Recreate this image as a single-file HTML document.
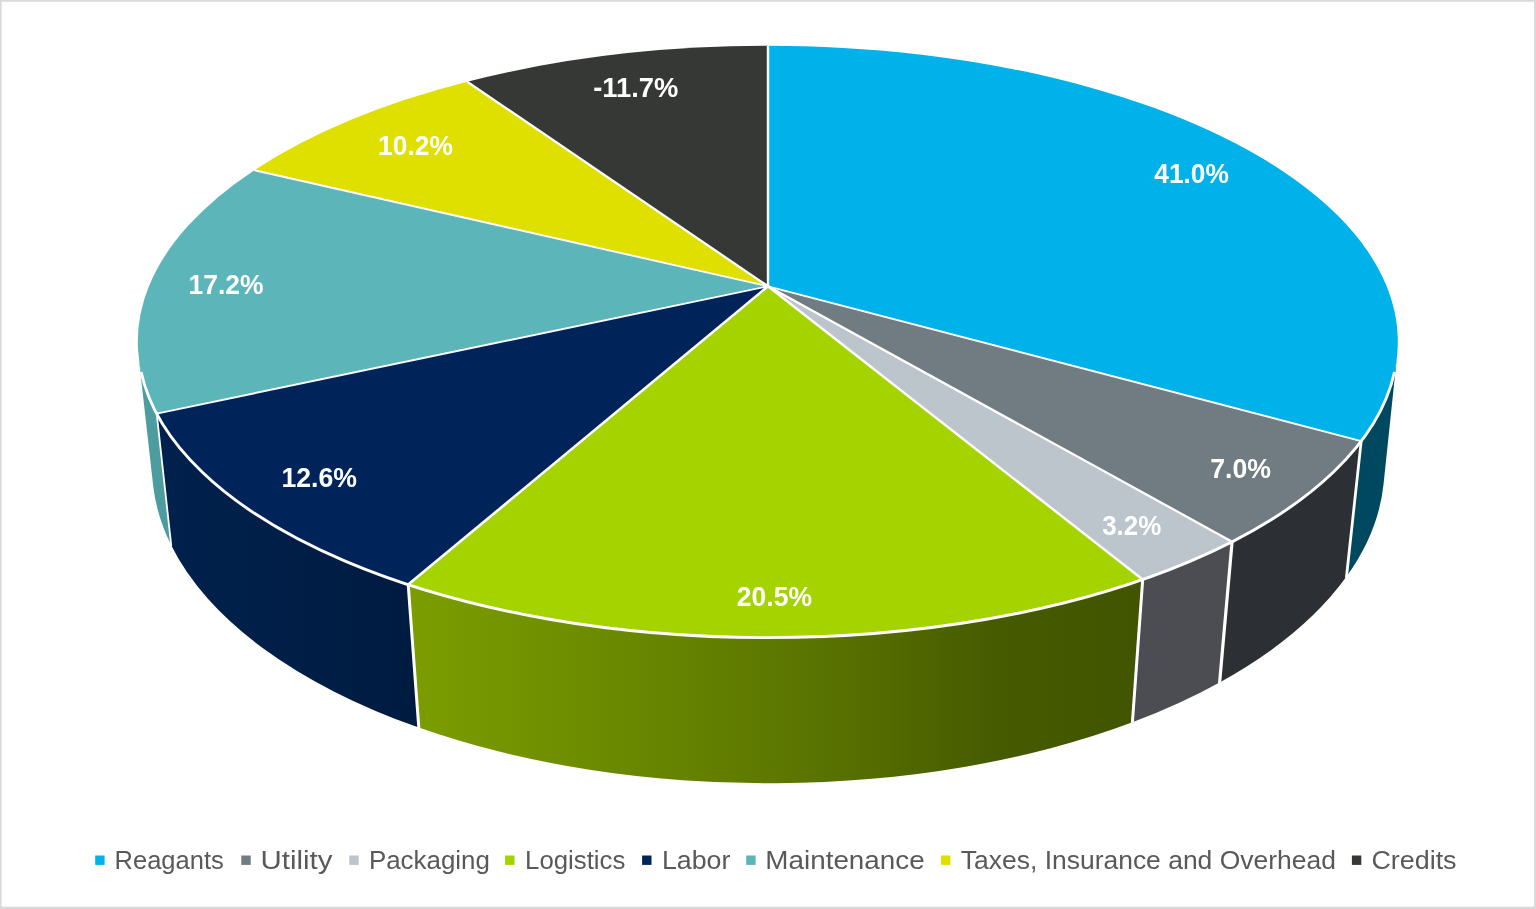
<!DOCTYPE html>
<html><head><meta charset="utf-8"><title>Chart</title>
<style>
html,body{margin:0;padding:0;background:#fff;overflow:hidden}
body{width:1536px;height:909px;font-family:"Liberation Sans",sans-serif}
svg{display:block}
</style></head><body>
<svg width="1536" height="909" viewBox="0 0 1536 909">
<defs>
<linearGradient id="gLog" gradientUnits="userSpaceOnUse" x1="412" y1="0" x2="1140" y2="0"><stop offset="0" stop-color="#7c9d00"/><stop offset="0.25" stop-color="#6d8b00"/><stop offset="0.55" stop-color="#5a7400"/><stop offset="0.8" stop-color="#465b00"/><stop offset="1" stop-color="#415400"/></linearGradient>
<linearGradient id="gLab" gradientUnits="userSpaceOnUse" x1="160" y1="0" x2="418" y2="0"><stop offset="0" stop-color="#00214d"/><stop offset="1" stop-color="#001b40"/></linearGradient>
<filter id="nf" x="0" y="0" width="1536" height="909" filterUnits="userSpaceOnUse" color-interpolation-filters="sRGB"><feOffset dx="0" dy="0"/></filter>
</defs>
<path d="M1397.0 356.3 A630.0 295.9 0 0 1 1361.2 441.1 L1346.5 576.6 A616.1 315.7 0 0 0 1383.5 484.6 Z" fill="#00485f"/>
<path d="M156.7 413.6 A630.0 295.9 0 0 1 138.7 357.4 L153.2 485.9 A616.1 315.7 0 0 0 171.2 545.3 Z" fill="#4d9da0"/>
<path d="M1361.2 441.1 A630.0 295.9 0 0 1 1232.1 541.7 L1219.6 682.5 A616.1 315.7 0 0 0 1346.5 576.6 Z" fill="#2c2f34"/>
<path d="M1232.1 541.7 A630.0 295.9 0 0 1 1142.7 579.5 L1132.4 722.3 A616.1 315.7 0 0 0 1219.6 682.5 Z" fill="#4b4d52"/>
<path d="M1142.7 579.5 A630.0 295.9 0 0 1 408.2 584.6 L418.8 727.6 A616.1 315.7 0 0 0 1132.4 722.3 Z" fill="url(#gLog)"/>
<path d="M408.2 584.6 A630.0 295.9 0 0 1 156.7 413.6 L171.2 545.3 A616.1 315.7 0 0 0 418.8 727.6 Z" fill="url(#gLab)"/>
<path d="M1361.2 441.1 L1346.5 576.6" stroke="#fff" stroke-width="2.8" stroke-linecap="square" fill="none"/>
<path d="M1232.1 541.7 L1219.6 682.5" stroke="#fff" stroke-width="3.2" stroke-linecap="square" fill="none"/>
<path d="M1142.7 579.5 L1132.4 722.3" stroke="#fff" stroke-width="3.0" stroke-linecap="square" fill="none"/>
<path d="M408.2 584.6 L418.8 727.6" stroke="#fff" stroke-width="3.0" stroke-linecap="square" fill="none"/>
<path d="M156.7 413.6 L171.2 545.3" stroke="#fff" stroke-width="1.8" stroke-linecap="square" fill="none"/>
<path d="M768.0 286.3 L768.0 45.8 A630.0 295.9 0 0 1 1361.2 441.1 Z" fill="#00b2e9"/>
<path d="M768.0 286.3 L1361.2 441.1 A630.0 295.9 0 0 1 1232.1 541.7 Z" fill="#707b82"/>
<path d="M768.0 286.3 L1232.1 541.7 A630.0 295.9 0 0 1 1142.7 579.5 Z" fill="#bcc4cc"/>
<path d="M768.0 286.3 L1142.7 579.5 A630.0 295.9 0 0 1 408.2 584.6 Z" fill="#a5d300"/>
<path d="M768.0 286.3 L408.2 584.6 A630.0 295.9 0 0 1 156.7 413.6 Z" fill="#00245a"/>
<path d="M768.0 286.3 L156.7 413.6 A630.0 295.9 0 0 1 254.4 170.2 Z" fill="#5bb5b9"/>
<path d="M768.0 286.3 L254.4 170.2 A630.0 295.9 0 0 1 467.2 81.7 Z" fill="#dfdf00"/>
<path d="M768.0 286.3 L467.2 81.7 A630.0 295.9 0 0 1 768.0 45.8 Z" fill="#363835"/>
<path d="M768.0 286.3 L768.0 45.8" stroke="#fff" stroke-width="2.4" fill="none"/>
<path d="M768.0 286.3 L1361.2 441.1" stroke="#fff" stroke-width="1.9" fill="none"/>
<path d="M768.0 286.3 L1232.1 541.7" stroke="#fff" stroke-width="2.3" fill="none"/>
<path d="M768.0 286.3 L1142.7 579.5" stroke="#fff" stroke-width="2.4" fill="none"/>
<path d="M768.0 286.3 L408.2 584.6" stroke="#fff" stroke-width="2.6" fill="none"/>
<path d="M768.0 286.3 L156.7 413.6" stroke="#fff" stroke-width="1.9" fill="none"/>
<path d="M768.0 286.3 L254.4 170.2" stroke="#fff" stroke-width="1.9" fill="none"/>
<path d="M768.0 286.3 L467.2 81.7" stroke="#fff" stroke-width="2.3" fill="none"/>
<path d="M1394.5 372.0 A630.0 295.9 0 0 1 141.1 372.0" stroke="#fff" stroke-width="2.9" fill="none"/>
<g filter="url(#nf)">
<text x="1154.26" y="183.00" textLength="74.64" lengthAdjust="spacingAndGlyphs" font-family="Liberation Sans, sans-serif" font-weight="bold" font-size="27.5" fill="#fff">41.0%</text>
<text x="1210.20" y="477.50" textLength="60.86" lengthAdjust="spacingAndGlyphs" font-family="Liberation Sans, sans-serif" font-weight="bold" font-size="27.5" fill="#fff">7.0%</text>
<text x="1102.18" y="535.00" textLength="59.14" lengthAdjust="spacingAndGlyphs" font-family="Liberation Sans, sans-serif" font-weight="bold" font-size="27.5" fill="#fff">3.2%</text>
<text x="736.86" y="606.00" textLength="75.12" lengthAdjust="spacingAndGlyphs" font-family="Liberation Sans, sans-serif" font-weight="bold" font-size="27.5" fill="#fff">20.5%</text>
<text x="281.46" y="486.70" textLength="75.60" lengthAdjust="spacingAndGlyphs" font-family="Liberation Sans, sans-serif" font-weight="bold" font-size="27.5" fill="#fff">12.6%</text>
<text x="188.62" y="294.40" textLength="74.94" lengthAdjust="spacingAndGlyphs" font-family="Liberation Sans, sans-serif" font-weight="bold" font-size="27.5" fill="#fff">17.2%</text>
<text x="378.12" y="155.40" textLength="74.78" lengthAdjust="spacingAndGlyphs" font-family="Liberation Sans, sans-serif" font-weight="bold" font-size="27.5" fill="#fff">10.2%</text>
<text x="593.28" y="97.00" textLength="85.12" lengthAdjust="spacingAndGlyphs" font-family="Liberation Sans, sans-serif" font-weight="bold" font-size="27.5" fill="#fff">-11.7%</text>
<rect x="95.2" y="855.5" width="9.4" height="9.4" fill="#00b2e9"/>
<text x="114.54" y="868.90" textLength="109.20" lengthAdjust="spacingAndGlyphs" font-family="Liberation Sans, sans-serif" font-size="26.3" fill="#595959">Reagants</text>
<rect x="241.3" y="855.5" width="9.4" height="9.4" fill="#707b82"/>
<text x="260.62" y="868.90" textLength="71.88" lengthAdjust="spacingAndGlyphs" font-family="Liberation Sans, sans-serif" font-size="26.3" fill="#595959">Utility</text>
<rect x="349.3" y="855.5" width="9.4" height="9.4" fill="#bcc4cc"/>
<text x="368.88" y="868.90" textLength="121.00" lengthAdjust="spacingAndGlyphs" font-family="Liberation Sans, sans-serif" font-size="26.3" fill="#595959">Packaging</text>
<rect x="505.1" y="855.5" width="9.4" height="9.4" fill="#a5d300"/>
<text x="525.12" y="868.90" textLength="100.20" lengthAdjust="spacingAndGlyphs" font-family="Liberation Sans, sans-serif" font-size="26.3" fill="#595959">Logistics</text>
<rect x="642.1" y="855.5" width="9.4" height="9.4" fill="#00245a"/>
<text x="661.96" y="868.90" textLength="68.36" lengthAdjust="spacingAndGlyphs" font-family="Liberation Sans, sans-serif" font-size="26.3" fill="#595959">Labor</text>
<rect x="746.2" y="855.5" width="9.4" height="9.4" fill="#5bb5b9"/>
<text x="765.38" y="868.90" textLength="159.26" lengthAdjust="spacingAndGlyphs" font-family="Liberation Sans, sans-serif" font-size="26.3" fill="#595959">Maintenance</text>
<rect x="941.0" y="855.5" width="9.4" height="9.4" fill="#dfdf00"/>
<text x="960.84" y="868.90" textLength="375.04" lengthAdjust="spacingAndGlyphs" font-family="Liberation Sans, sans-serif" font-size="26.3" fill="#595959">Taxes, Insurance and Overhead</text>
<rect x="1351.9" y="855.5" width="9.4" height="9.4" fill="#363835"/>
<text x="1371.44" y="868.90" textLength="85.12" lengthAdjust="spacingAndGlyphs" font-family="Liberation Sans, sans-serif" font-size="26.3" fill="#595959">Credits</text>
</g>
<rect x="0" y="0" width="1536" height="1.7" fill="#d9d9d9"/>
<rect x="0" y="0" width="1.6" height="909" fill="#d9d9d9"/>
<rect x="1534" y="0" width="2" height="909" fill="#d9d9d9"/>
<rect x="0" y="906.7" width="1536" height="2.3" fill="#d9d9d9"/>
</svg>
</body></html>
